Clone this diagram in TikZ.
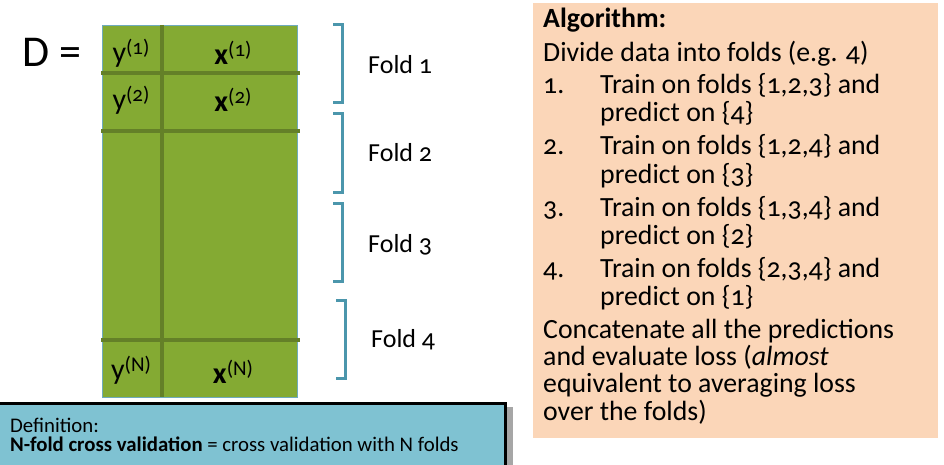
\documentclass[tikz,border=0pt]{standalone}
\usepackage{fontspec}
\setmainfont{Carlito}[Numbers=OldStyle]
\usetikzlibrary{positioning, shadows}

\definecolor{cellgreen}{RGB}{132,170,51}
\definecolor{lineolive}{RGB}{100,128,40}
\definecolor{bracketblue}{RGB}{75,150,172}
\definecolor{peach}{RGB}{251,214,184}
\definecolor{defblue}{RGB}{127,194,210}

\newcommand{\supnum}[1]{\raisebox{8pt}{\fontsize{21}{21}\selectfont(#1)}}

\begin{document}
\begin{tikzpicture}[x=1pt, y=-1pt,
    every node/.style={inner sep=0pt, anchor=base west},
    algtext/.style={font=\fontsize{27.8}{28}\selectfont},
    foldtext/.style={font=\fontsize{26}{28}\selectfont},
    celltext/.style={font=\fontsize{30}{32}\selectfont, anchor=base},
    deftext/.style={font=\fontsize{20.8}{22}\selectfont},
    bracket/.style={draw=bracketblue, line width=3pt},
    rowline/.style={draw=lineolive, line width=3.5pt}]
    \useasboundingbox (0,0) rectangle (944,465);

    % Define boxes
    \fill[peach] (533,3) rectangle (938,438);
    \filldraw[fill=defblue, draw=black, line width=3pt,
        drop shadow={shadow xshift=8pt, shadow yshift=-4pt, opacity=0.7}]
        (-5,403) rectangle (505,480);

    % Define data table
    \filldraw[fill=cellgreen, draw=bracketblue!80, line width=0.6pt] (102,25) rectangle (297,397);
    \draw[rowline] (162,25) -- (162,397);
    \foreach \y in {73,131,340}
        \draw[rowline] (101,\y) -- (300,\y);

    \node[font=\fontsize{44}{48}\selectfont] (dlabel) at (22,67) {D =};
    \node[celltext] (y1) at (131,63) {y\supnum{1}};
    \node[celltext] (x1) at (233,65) {\textbf{x}\supnum{1}};
    \node[celltext] (y2) at (131,110) {y\supnum{2}};
    \node[celltext] (x2) at (233,112) {\textbf{x}\supnum{2}};
    \node[celltext] (yN) at (131,379) {y\supnum{N}};
    \node[celltext] (xN) at (233,383) {\textbf{x}\supnum{N}};

    % Define folds
    \foreach \k/\ytop/\ybot/\bx/\lx/\ly in {1/25/103/342/368/74, 2/114/192/342/368/162,
        3/203/281/342/368/252, 4/300/378/345/371/347} {
        \draw[bracket] (\bx-9,\ytop) -- (\bx,\ytop) -- (\bx,\ybot) -- (\bx-9,\ybot);
        \node[foldtext] (fold\k) at (\lx,\ly) {Fold \k};
    }

    % Define algorithm
    \node[algtext] (alg) at (543,28) {\bfseries Algorithm:};
    \node[algtext] (divide) at (543,62) {Divide data into folds (e.g. 4)};
    \foreach \k/\tr/\pr in {1/{1,2,3}/4, 2/{1,2,4}/3, 3/{1,3,4}/2, 4/{2,3,4}/1} {
        \node[algtext] (num\k) at (543,{94+61*(\k-1)}) {\k.};
        \node[algtext] (train\k) at (600,{94+61*(\k-1)}) {Train on folds \{\tr\} and};
        \node[algtext] (pred\k) at (600,{122+61*(\k-1)}) {predict on \{\pr\}};
    }
    \foreach \line [count=\k from 0] in {Concatenate all the predictions,
        and evaluate loss (\textit{almost}, equivalent to averaging loss, over the folds)}
        \node[algtext] (concat\k) at (543,{338+27.4*\k}) {\line};

    % Define definition
    \node[deftext] (defhead) at (10,432) {Definition:};
    \node[deftext] (defbody) at (10,451) {\textbf{N-fold cross validation} = cross validation with N folds};
\end{tikzpicture}
\end{document}
